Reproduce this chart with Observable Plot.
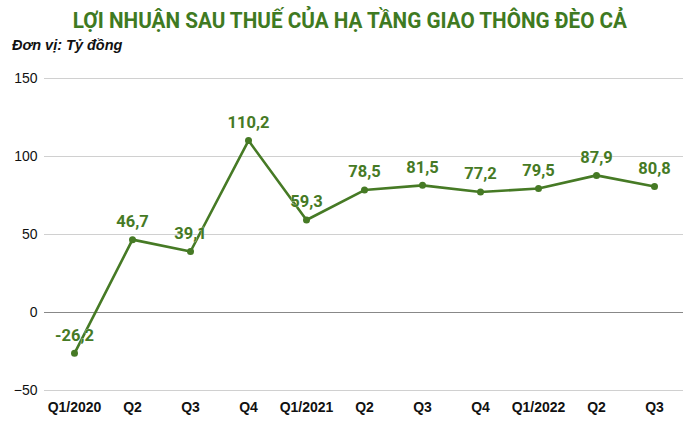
<!DOCTYPE html>
<html><head><meta charset="utf-8">
<script src="https://cdn.jsdelivr.net/npm/d3@7"></script>
<script src="https://cdn.jsdelivr.net/npm/@observablehq/plot@0.6"></script>
<style>
body{margin:0;background:#fff;width:700px;height:425px;overflow:hidden;font-family:Roboto,"Liberation Sans",sans-serif;}
#title{position:absolute;left:0;top:8px;width:700px;text-align:center;font-size:22px;font-weight:bold;color:#3f7a22;line-height:26px;}
#title span{display:inline-block;transform:scaleX(0.94);transform-origin:center;}
#sub{position:absolute;left:12px;top:37px;font-family:"Liberation Sans",Arial,sans-serif;font-size:14.5px;font-weight:bold;font-style:italic;color:#111;}
#chart{position:absolute;left:0;top:58px;}
</style></head><body>
<div id="title"><span>LỢI NHUẬN SAU THUẾ CỦA HẠ TẦNG GIAO THÔNG ĐÈO CẢ</span></div>
<div id="sub">Đơn vị: Tỷ đồng</div>
<div id="chart"></div>
<script>
const quarters = ["Q1/2020","Q2 ","Q3 ","Q4 ","Q1/2021","Q2  ","Q3  ","Q4  ","Q1/2022","Q2","Q3"];
const profit = [-26.2, 46.7, 39.1, 110.2, 59.3, 78.5, 81.5, 77.2, 79.5, 87.9, 80.8];
const yTicks = [-50, 0, 50, 100, 150];
const data = quarters.map((q, i) => ({q, v: profit[i]}));
const green = "#467a25";
const fmt = v => String(v.toFixed(1)).replace(".", ",");
const chart = Plot.plot({
  width: 700, height: 367,
  marginLeft: 44, marginRight: 17, marginTop: 20, marginBottom: 35,
  style: {fontFamily: "Liberation Sans, Arial, sans-serif", fontSize: "14px", color: "#111", background: "white"},
  x: {type: "point", domain: quarters, padding: 0.5, label: null},
  y: {domain: [-50, 150], ticks: yTicks, label: null},
  marks: [
    Plot.ruleY(yTicks.filter(d => d !== 0), {stroke: "#d0d0d0", strokeWidth: 1}),
    Plot.ruleY([0], {stroke: "#888", strokeWidth: 1}),
    Plot.axisY({ticks: yTicks, tickSize: 0, tickPadding: 7, label: null, fontSize: 14, fill: "#111"}),
    Plot.axisX({tickSize: 0, tickPadding: 12, label: null, fontWeight: "bold", fontSize: 14, fill: "#111", tickFormat: d => d.trim()}),
    Plot.line(data, {x: "q", y: "v", stroke: green, strokeWidth: 2.6}),
    Plot.dot(data, {x: "q", y: "v", fill: green, r: 3.5}),
    Plot.text(data, {x: "q", y: "v", text: d => fmt(d.v), dy: -18, fill: green, fontWeight: "bold", fontSize: 16.5, fontFamily: "Roboto, sans-serif", stroke: "white", strokeWidth: 0.5})
  ]
});
document.getElementById("chart").appendChild(chart);
</script>
</body></html>
